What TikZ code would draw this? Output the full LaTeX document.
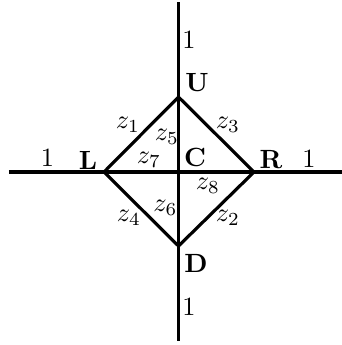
\documentclass[tikz,border=0pt]{standalone}
\begin{document}
\begin{tikzpicture}[x=0.013333cm,y=-0.013333cm,
  edge/.style={line width=1.2pt, line join=miter},
  lbl/.style={inner sep=0pt, anchor=center}]
\useasboundingbox (0,0) rectangle (342,345);
% points
\coordinate (U) at (178.5,97);
\coordinate (D) at (178.5,246);
\coordinate (L) at (104,172);
\coordinate (R) at (254,172);
\coordinate (C) at (178.5,172);
\coordinate (top) at (178.5,2);
\coordinate (bot) at (178.5,341);
\coordinate (left) at (9,172);
\coordinate (right) at (342,172);
% axes
\draw[edge] (top) -- (bot);
\draw[edge] (left) -- (right);
% diamond
\draw[edge] (L) -- (U) -- (R) -- (D) -- cycle;
% labels
\node[lbl] (one1) at (189,40) {1};
\node[lbl] (lU) at (197,83) {\textbf{U}};
\node[lbl] (lD) at (196,263) {\textbf{D}};
\node[lbl] (one2) at (189,307) {1};
\node[lbl] (one3) at (47.5,158) {1};
\node[lbl] (lL) at (88,160) {\textbf{L}};
\node[lbl] (lR) at (271,160) {\textbf{R}};
\node[lbl] (one4) at (309,159) {1};
\node[lbl] (lC) at (195,157.5) {\textbf{C}};
\node[lbl] (z1) at (128,125) {$z_1$};
\node[lbl] (z3) at (228,125) {$z_3$};
\node[lbl] (z5) at (167,137) {$z_5$};
\node[lbl] (z7) at (149,160) {$z_7$};
\node[lbl] (z8) at (208,186) {$z_8$};
\node[lbl] (z6) at (165.5,208) {$z_6$};
\node[lbl] (z4) at (129,218) {$z_4$};
\node[lbl] (z2) at (228,218) {$z_2$};
\end{tikzpicture}
\end{document}
